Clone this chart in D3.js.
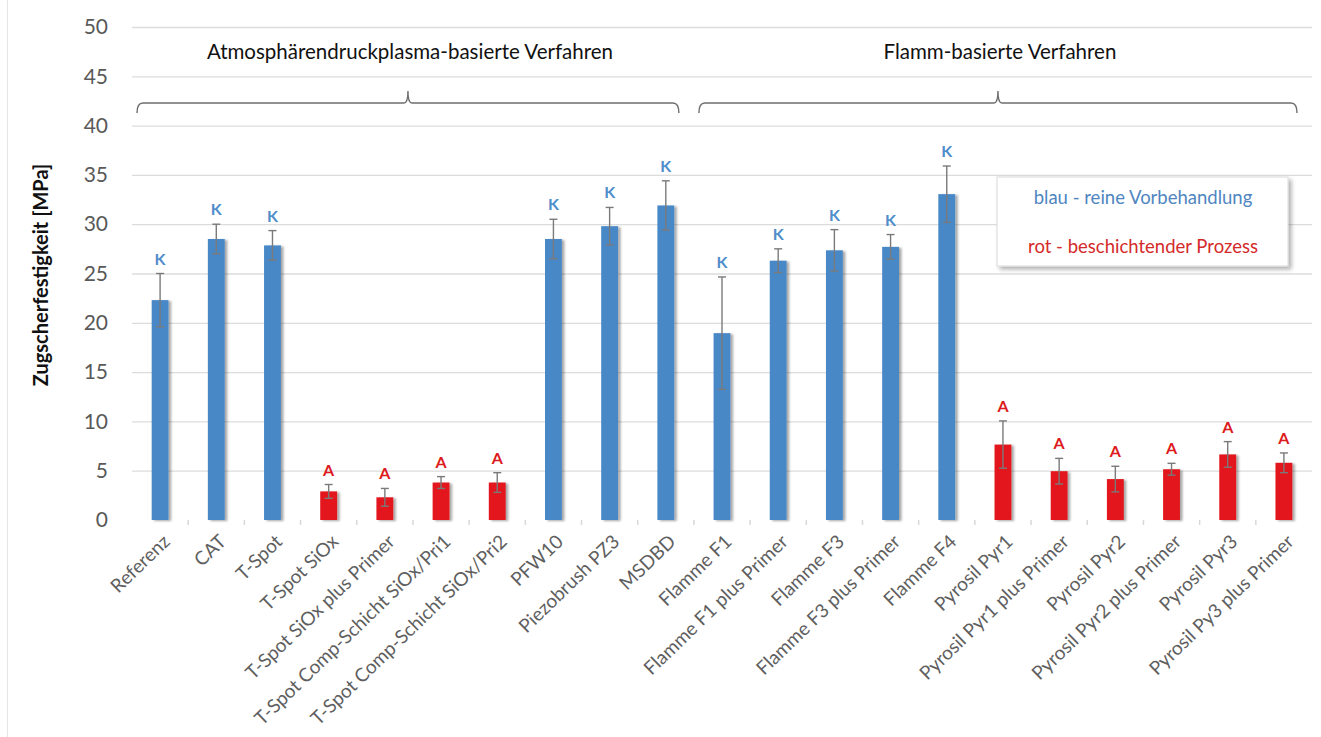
<!DOCTYPE html>
<html>
<head>
<meta charset="utf-8">
<script src="https://cdn.jsdelivr.net/npm/d3@7"></script>
<style>
  html, body { margin: 0; padding: 0; background: #fff; }
  svg { display: block; font-family: Lato, "Open Sans", sans-serif; }
</style>
</head>
<body>
<svg id="chart" width="1321" height="737"></svg>
<script>
// Verfahren (x-axis categories)
const categories = [
  "Referenz", "CAT", "T-Spot", "T-Spot SiOx", "T-Spot SiOx plus Primer",
  "T-Spot Comp-Schicht SiOx/Pri1", "T-Spot Comp-Schicht SiOx/Pri2",
  "PFW10", "Piezobrush PZ3", "MSDBD",
  "Flamme F1", "Flamme F1 plus Primer", "Flamme F3", "Flamme F3 plus Primer", "Flamme F4",
  "Pyrosil Pyr1", "Pyrosil Pyr1 plus Primer", "Pyrosil Pyr2", "Pyrosil Pyr2 plus Primer",
  "Pyrosil Pyr3", "Pyrosil Py3 plus Primer"
];
// Mittelwerte Zugscherfestigkeit [MPa]
const values = [22.3, 28.5, 27.85, 2.9, 2.3, 3.8, 3.8, 28.5, 29.8, 31.9,
  18.95, 26.3, 27.35, 27.7, 33.05, 7.65, 4.95, 4.15, 5.15, 6.65, 5.8];
// Standardabweichung [MPa]
const errors = [2.7, 1.5, 1.5, 0.7, 0.9, 0.6, 1.0, 2.0, 1.9, 2.5,
  5.7, 1.2, 2.1, 1.25, 2.85, 2.4, 1.3, 1.3, 0.6, 1.3, 1.0];
// "blau" = reine Vorbehandlung, "rot" = beschichtender Prozess
const kind = ["blau", "blau", "blau", "rot", "rot", "rot", "rot", "blau", "blau", "blau",
  "blau", "blau", "blau", "blau", "blau", "rot", "rot", "rot", "rot", "rot", "rot"];
// Bruchbild: K = Kohäsionsbruch, A = Adhäsionsbruch
const fracture = ["K", "K", "K", "A", "A", "A", "A", "K", "K", "K",
  "K", "K", "K", "K", "K", "A", "A", "A", "A", "A", "A"];
const yTicks = [0, 5, 10, 15, 20, 25, 30, 35, 40, 45, 50];
// Verfahrensgruppen: [Name, erste Kategorie, letzte Kategorie]
const groups = [
  ["Atmosphärendruckplasma-basierte Verfahren", 0, 9],
  ["Flamm-basierte Verfahren", 10, 20]
];
const legendLines = [
  ["blau - reine Vorbehandlung", "blau"],
  ["rot - beschichtender Prozess", "rot"]
];

const barColor = { blau: "#4a88c7", rot: "#e2161c" };
const labelColor = { blau: "#4f8dcb", rot: "#dc1a20" };
const legendColor = { blau: "#4f86c0", rot: "#d42a2a" };

const svg = d3.select("#chart");
const plot = { left: 132, right: 1312, top: 27, bottom: 520 };

const x = d3.scaleBand().domain(categories).range([plot.left, plot.right]).paddingInner(0).paddingOuter(0);
const y = d3.scaleLinear().domain([0, 50]).range([plot.bottom, plot.top]);
const barW = x.bandwidth() * 0.3;

const defs = svg.append("defs");
const sh = defs.append("filter").attr("id", "shadow").attr("x", "-30%").attr("y", "-10%").attr("width", "180%").attr("height", "130%");
sh.append("feDropShadow").attr("dx", 2.5).attr("dy", 1).attr("stdDeviation", 1.3).attr("flood-color", "#000").attr("flood-opacity", 0.35);
const sh2 = defs.append("filter").attr("id", "boxshadow").attr("x", "-10%").attr("y", "-20%").attr("width", "130%").attr("height", "150%");
sh2.append("feDropShadow").attr("dx", 3).attr("dy", 3).attr("stdDeviation", 2).attr("flood-color", "#000").attr("flood-opacity", 0.3);

// faint frame line on the left
svg.append("line").attr("x1", 7.5).attr("x2", 7.5).attr("y1", 0).attr("y2", 737)
  .attr("stroke", "#e6e6e6").attr("stroke-width", 1);

// horizontal gridlines
svg.append("g").selectAll("line").data(yTicks.filter(d => d > 0)).join("line")
  .attr("x1", plot.left).attr("x2", plot.right)
  .attr("y1", d => y(d) + 0.5).attr("y2", d => y(d) + 0.5)
  .attr("stroke", "#dcdcdc").attr("stroke-width", 1.3);

// y axis (labels only)
const yAxis = d3.axisLeft(y).tickValues(yTicks).tickSize(0).tickPadding(0);
const yg = svg.append("g").attr("transform", `translate(${108},0)`).call(yAxis);
yg.select(".domain").remove();
yg.selectAll("text").attr("font-size", 21).attr("fill", "#595959").attr("font-family", "Lato, sans-serif");

// y axis title
svg.append("text")
  .attr("transform", `translate(48,${275}) rotate(-90)`)
  .attr("text-anchor", "middle")
  .attr("font-size", 20).attr("font-weight", "bold").attr("fill", "#111")
  .text("Zugscherfestigkeit [MPa]");

// right plot border
svg.append("line").attr("x1", plot.right + 1).attr("x2", plot.right + 1)
  .attr("y1", plot.top + 3).attr("y2", plot.bottom + 2)
  .attr("stroke", "#b0b0b0").attr("stroke-width", 2.5).attr("filter", "url(#shadow)");

// bars
svg.append("g").selectAll("rect").data(categories).join("rect")
  .attr("x", d => x(d) + x.bandwidth() / 2 - barW / 2)
  .attr("width", barW)
  .attr("y", (d, i) => y(values[i]))
  .attr("height", (d, i) => y(0) - y(values[i]))
  .attr("fill", (d, i) => barColor[kind[i]])
  .attr("filter", "url(#shadow)");

// error bars
const eg = svg.append("g").attr("stroke", "#7a7a7a").attr("stroke-width", 1.4).attr("fill", "none");
categories.forEach((c, i) => {
  const cx = x(c) + x.bandwidth() / 2;
  const hi = y(values[i] + errors[i]), lo = y(values[i] - errors[i]);
  eg.append("line").attr("x1", cx).attr("x2", cx).attr("y1", hi).attr("y2", lo);
  eg.append("line").attr("x1", cx - 4).attr("x2", cx + 4).attr("y1", hi).attr("y2", hi);
  eg.append("line").attr("x1", cx - 4).attr("x2", cx + 4).attr("y1", lo).attr("y2", lo);
});

// fracture pattern letters
svg.append("g").selectAll("text").data(categories).join("text")
  .attr("x", d => x(d) + x.bandwidth() / 2)
  .attr("y", (d, i) => y(values[i] + errors[i]) - 9)
  .attr("text-anchor", "middle")
  .attr("font-size", 16).attr("font-weight", "bold")
  .attr("fill", (d, i) => labelColor[kind[i]])
  .text((d, i) => fracture[i]);

// x axis
const xAxis = d3.axisBottom(x).tickSize(0).tickFormat(() => "");
const xg = svg.append("g").attr("transform", `translate(0,${plot.bottom + 1.5})`).call(xAxis);
xg.select(".domain").attr("stroke", "#a8a8a8").attr("stroke-width", 3).attr("filter", "url(#shadow)");
// tick marks at category boundaries
svg.append("g").selectAll("line").data(categories.slice(1)).join("line")
  .attr("x1", d => x(d)).attr("x2", d => x(d))
  .attr("y1", plot.bottom).attr("y2", plot.bottom + 5)
  .attr("stroke", "#d8d8d8").attr("stroke-width", 1.5);

// rotated category labels
svg.append("g").selectAll("text").data(categories).join("text")
  .attr("transform", d => `translate(${x(d) + x.bandwidth() / 2 + 11},${plot.bottom + 23}) rotate(-44)`)
  .attr("text-anchor", "end")
  .attr("font-size", 19).attr("fill", "#5f5f5f")
  .text(d => d);

// group braces and titles
groups.forEach(([name, a, b]) => {
  const x0 = x(categories[a]) + 5;
  const x1 = x(categories[b]) + x.bandwidth() - 15;
  const xm = (x0 + x1) / 2;
  const yl = 103, yd = 113, yt = 91;
  const p = d3.path();
  p.moveTo(x0, yd);
  p.quadraticCurveTo(x0, yl, x0 + 6, yl);
  p.lineTo(xm - 4, yl);
  p.quadraticCurveTo(xm, yl, xm, yt);
  p.quadraticCurveTo(xm, yl, xm + 4, yl);
  p.lineTo(x1 - 6, yl);
  p.quadraticCurveTo(x1, yl, x1, yd);
  svg.append("path").attr("d", p.toString()).attr("fill", "none")
    .attr("stroke", "#6e6e6e").attr("stroke-width", 1.4);
  svg.append("text").attr("x", xm + 2).attr("y", 59)
    .attr("text-anchor", "middle").attr("font-size", 20.5).attr("fill", "#111")
    .text(name);
});

// legend box
const lg = svg.append("g");
lg.append("rect").attr("x", 997).attr("y", 177).attr("width", 291).attr("height", 89)
  .attr("fill", "#fff").attr("stroke", "#dadada").attr("stroke-width", 1)
  .attr("filter", "url(#boxshadow)");
lg.selectAll("text").data(legendLines).join("text")
  .attr("x", 1143).attr("y", (d, i) => 204 + i * 49)
  .attr("text-anchor", "middle").attr("font-size", 18.5)
  .attr("fill", d => legendColor[d[1]])
  .text(d => d[0]);
</script>
</body>
</html>
